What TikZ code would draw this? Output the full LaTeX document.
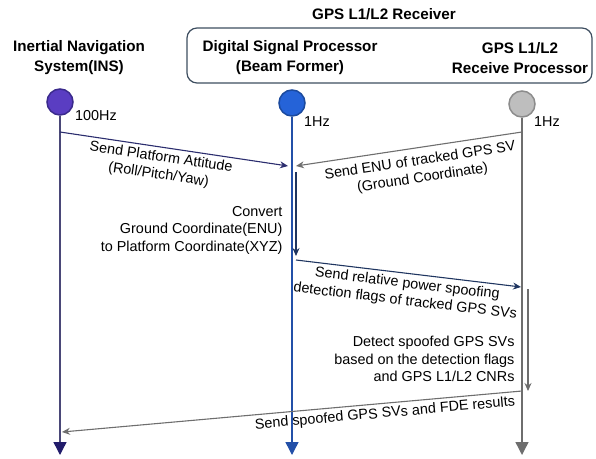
\documentclass[tikz,border=0pt]{standalone}
\usepackage{fontspec}
\setmainfont{Liberation Sans}
\usetikzlibrary{calc,arrows.meta}
\definecolor{insfill}{HTML}{5A3DC2}
\definecolor{insdraw}{HTML}{3A2A8C}
\definecolor{insline}{HTML}{4A4878}
\definecolor{insdark}{HTML}{221C6B}
\definecolor{dspfill}{HTML}{2563D8}
\definecolor{dspdraw}{HTML}{1B4A9E}
\definecolor{dspline}{HTML}{2350A8}
\definecolor{rcvfill}{HTML}{BEBEBE}
\definecolor{rcvdraw}{HTML}{8C8C8C}
\definecolor{rcvline}{HTML}{6E6E6E}
\definecolor{msgnavy}{HTML}{2B2D6E}
\definecolor{msgdark}{HTML}{1F3560}
\definecolor{boxline}{HTML}{3E4E60}
\def\drawmsg{\draw[line width=1.1pt,-{Stealth[length=8pt,width=7pt]}]}
\def\drawlife{\draw[line width=1.4pt]}
\def\lifenode{\node[circle,minimum size=26pt,inner sep=0pt,line width=1.5pt]}
\def\headnode{\node[font=\fontsize{15.2}{20}\selectfont\bfseries,align=center]}

\begin{document}
\begin{tikzpicture}[x=1pt,y=-1pt,font=\fontsize{14.4}{17.5}\selectfont,
  msglabel/.style={text=black,sloped,align=center}]
\useasboundingbox (0,0) rectangle (596,458);

% ---------- headers
\headnode (rcvtitle) at (384,14) {GPS L1/L2 Receiver};
\draw[color=boxline, line width=1.2pt, rounded corners=10pt] (187,28) rectangle (592,83);
\headnode (institle) at (79,58) {Inertial Navigation\\System(INS)};
\headnode (dsptitle) at (290,58) {Digital Signal Processor\\(Beam Former)};
\headnode (rcvproc) at (520,58) {GPS L1/L2\\Receive Processor};

% ---------- lifelines
\lifenode[draw=insdraw,fill=insfill] (ins) at (60,102) {};
\lifenode[draw=dspdraw,fill=dspfill] (dsp) at (292,103) {};
\lifenode[draw=rcvdraw,fill=rcvfill] (rcv) at (522,104) {};
\node (inshz) at (96,116) {100Hz};
\node (dsphz) at (317,122) {1Hz};
\node (rcvhz) at (547,122) {1Hz};
\coordinate (insend) at (ins |- 0,455);
\coordinate (dspend) at (dsp |- 0,455);
\coordinate (rcvend) at (rcv |- 0,455);
\drawlife[color=insline,-{Triangle[length=13pt,width=13pt,color=insdark]}] (ins) to (insend);
\drawlife[color=dspline,-{Triangle[length=13pt,width=13pt]}] (dsp) to (dspend);
\drawlife[color=rcvline,-{Triangle[length=13pt,width=13pt]}] (rcv) to (rcvend);

% ---------- attitude and ENU into the beam former
\coordinate (att0) at (60,132);
\coordinate (att1) at (288,166);
\coordinate (enu0) at (522,132);
\coordinate (enu1) at (296,166);
\drawmsg[color=msgnavy] (att0) to node[pos=0.45,below,msglabel] {Send Platform Attitude\\(Roll/Pitch/Yaw)} (att1);
\drawmsg[color=rcvline] (enu0) to node[pos=0.46,below=3pt,msglabel] {Send ENU of tracked GPS SV\\(Ground Coordinate)} (enu1);

% conversion on the beam former
\coordinate (conv0) at ($ (enu1) + (0,6) $);
\coordinate (conv1) at ($ (enu1) + (0,90) $);
\drawmsg[color=msgdark] (conv0) to (conv1);
\node[anchor=east,align=right] (convtxt) at (286,230) {Convert\\Ground Coordinate(ENU)\\to Platform Coordinate(XYZ)};

% ---------- flags to the receive processor
\coordinate (flag0) at ($ (conv1) + (0,4) $);
\coordinate (flag1) at (521,287);
\drawmsg[color=msgdark] (flag0) to node[midway,below,msglabel] {Send relative power spoofing\\detection flags of tracked GPS SVs} (flag1);

% detection on the receive processor
\coordinate (det0) at (528,289);
\coordinate (det1) at (528,391);
\drawmsg[color=rcvline] (det0) to (det1);
\node[anchor=east,align=right] (dettxt) at (518,359) {Detect spoofed GPS SVs\\based on the detection flags\\and GPS L1/L2 CNRs};

% ---------- results back to the INS
\coordinate (fde0) at (522,391);
\coordinate (fde1) at (62,432);
\drawmsg[color=rcvline] (fde0) to node[pos=0.3,below,msglabel] {Send spoofed GPS SVs and FDE results} (fde1);
\end{tikzpicture}
\end{document}
